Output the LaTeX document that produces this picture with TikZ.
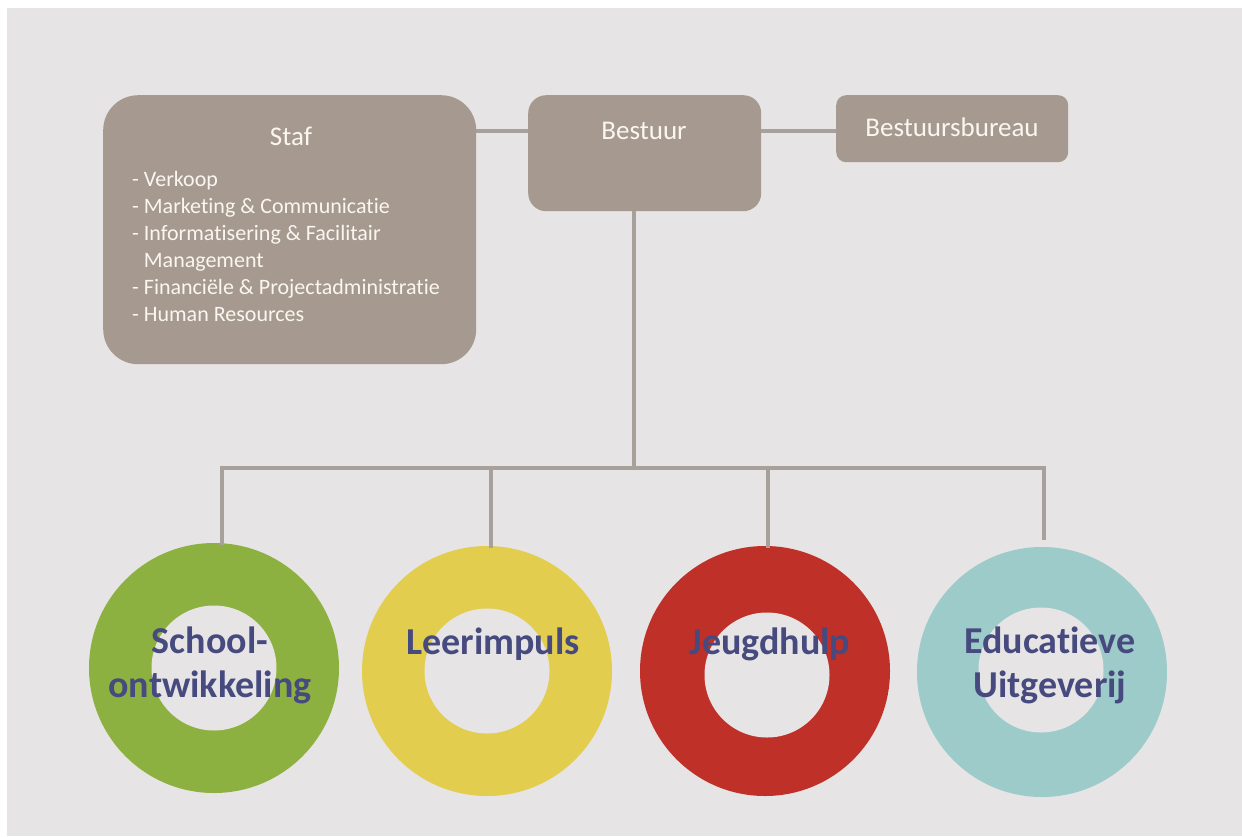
\documentclass[tikz,border=0pt]{standalone}
\usepackage{fontspec}
\setmainfont{Carlito}[Ligatures={NoCommon,NoContextual}]
\definecolor{bg}{HTML}{E6E4E4}
\definecolor{boxc}{HTML}{A69A90}
\definecolor{linec}{HTML}{A7A09B}
\definecolor{txtw}{HTML}{FAF6F0}
\definecolor{ringtxt}{HTML}{464A7E}
\definecolor{cgreen}{HTML}{8DB141}
\definecolor{cyellow}{HTML}{E2CD4E}
\definecolor{cred}{HTML}{BF3128}
\definecolor{cteal}{HTML}{9CCBC9}
\begin{document}
\begin{tikzpicture}[x=1pt,y=-1pt,
  orgbox/.style={fill=boxc, draw=none, inner sep=0pt, anchor=north west},
  conn/.style={draw=linec, line width=4pt},
  ring/.style={circle, inner sep=0pt, minimum size=250pt, draw=none},
  hole/.style={circle, fill=bg, inner sep=0pt, minimum size=125pt, draw=none},
  ringlabel/.style={font=\fontsize{38}{44}\selectfont\bfseries, text=ringtxt, align=center, inner sep=0pt},
  boxlabel/.style={font=\fontsize{27}{32}\selectfont, text=txtw, inner sep=0pt},
  listlabel/.style={font=\fontsize{22}{27}\selectfont, text=txtw, align=left, anchor=north west, inner sep=0pt}]
\useasboundingbox (0,0) rectangle (1242,836);
\fill[white] (0,0) rectangle (1242,836);
\fill[bg] (7,8) rectangle (1242,836);

% boxes
\node[orgbox, rounded corners=35pt, minimum width=373pt, minimum height=269pt] (staf) at (103,95) {};
\node[orgbox, rounded corners=18pt, minimum width=233pt, minimum height=116pt] (bestuur) at (528,95) {};
\node[orgbox, rounded corners=10pt, minimum width=232pt, minimum height=67pt] (bureau) at (836,95) {};

% box labels
\node[boxlabel] (staft) at (291,136) {Staf};
\node[boxlabel] (bestuurt) at (644,131) {Bestuur};
\node[boxlabel] (bureaut) at (952,127) {Bestuursbureau};
\node[listlabel] (staflist) at (132,171) {- Verkoop\\- Marketing \& Communicatie\\- Informatisering \& Facilitair\\\phantom{- }Management\\- Financiële \& Projectadministratie\\- Human Resources};

% rings
\node[ring, fill=cgreen] (school) at (214,668) {};
\node[hole] (schoolh) at (school.center) {};
\node[ring, fill=cyellow] (leer) at (487,671) {};
\node[hole] (leerh) at (leer.center) {};
\node[ring, fill=cred] (jeugd) at (765,671) {};
\node[hole] (jeugdh) at (767,675) {};
\node[ring, fill=cteal] (edu) at (1042,672) {};
\node[hole] (eduh) at (1041,670) {};

\node[ringlabel] (schoolt) at (210,665) {School-\\ontwikkeling};
\node[ringlabel, anchor=base] (leert) at (493,654) {Leerimpuls};
\node[ringlabel, anchor=base] (jeugdt) at (770,654) {Jeugdhulp};
\node[ringlabel] (edut) at (1050,665) {Educatieve\\Uitgeverij};

% connectors
\draw[conn] (staf.east |- bestuurt) -- (bestuur.west |- bestuurt);
\draw[conn] (bestuur.east |- bestuurt) -- (bureau.west |- bestuurt);
\coordinate (bar) at (634,468);
\coordinate (b1) at (222,468);
\coordinate (b2) at (491,468);
\coordinate (b3) at (768,468);
\coordinate (b4) at (1044,468);
\draw[conn] (bar |- bestuur.south) -- (bar);
\draw[conn] ([yshift=-2pt]b1 |- school.north) -- (b1) -- (b4) -- ([yshift=7pt]b4 |- edu.north);
\draw[conn] (b2) -- ([yshift=-2pt]b2 |- leer.north);
\draw[conn] (b3) -- ([yshift=-2pt]b3 |- jeugd.north);
\end{tikzpicture}
\end{document}
